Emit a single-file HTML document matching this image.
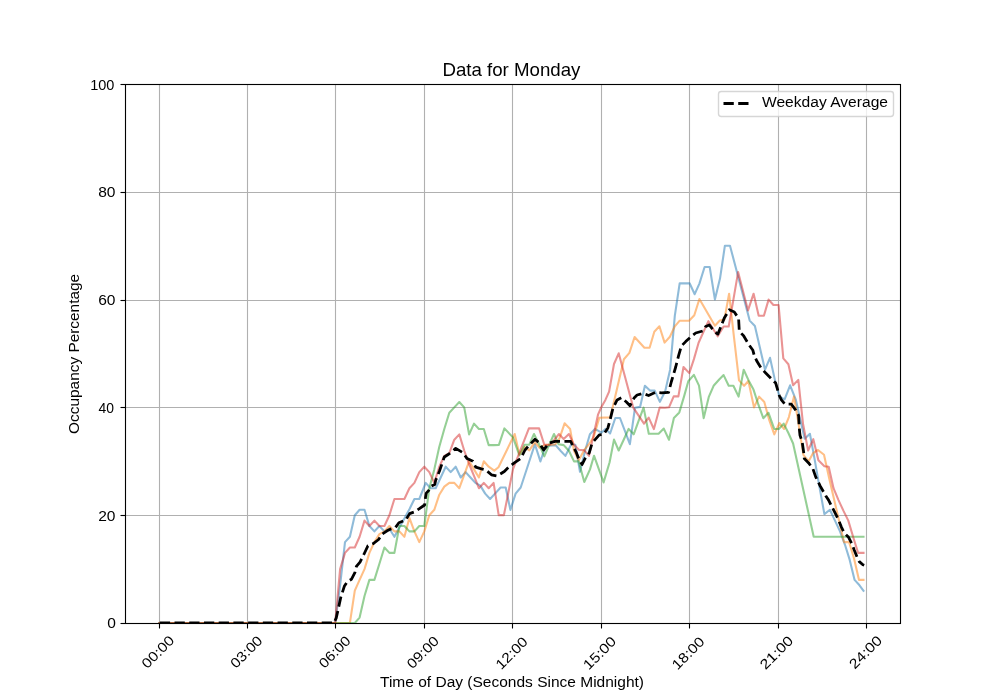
<!DOCTYPE html>
<html><head><meta charset="utf-8"><title>Data for Monday</title>
<style>
html,body{margin:0;padding:0;background:#fff;width:1000px;height:700px;overflow:hidden}
svg{display:block;will-change:transform}
text{font-family:"Liberation Sans", sans-serif;fill:#000}
</style></head><body>
<svg width="1000" height="700" viewBox="0 0 1000 700">
<defs><clipPath id="clip"><rect x="125" y="84" width="775" height="539"/></clipPath></defs>
<rect x="0" y="0" width="1000" height="700" fill="#fff"/>
<line x1="159.5" y1="84" x2="159.5" y2="623" stroke="#b0b0b0" stroke-width="1.11"/>
<line x1="247.5" y1="84" x2="247.5" y2="623" stroke="#b0b0b0" stroke-width="1.11"/>
<line x1="335.5" y1="84" x2="335.5" y2="623" stroke="#b0b0b0" stroke-width="1.11"/>
<line x1="424.5" y1="84" x2="424.5" y2="623" stroke="#b0b0b0" stroke-width="1.11"/>
<line x1="512.5" y1="84" x2="512.5" y2="623" stroke="#b0b0b0" stroke-width="1.11"/>
<line x1="601.5" y1="84" x2="601.5" y2="623" stroke="#b0b0b0" stroke-width="1.11"/>
<line x1="689.5" y1="84" x2="689.5" y2="623" stroke="#b0b0b0" stroke-width="1.11"/>
<line x1="778.5" y1="84" x2="778.5" y2="623" stroke="#b0b0b0" stroke-width="1.11"/>
<line x1="866.5" y1="84" x2="866.5" y2="623" stroke="#b0b0b0" stroke-width="1.11"/>
<line x1="125" y1="192.5" x2="900" y2="192.5" stroke="#b0b0b0" stroke-width="1.11"/>
<line x1="125" y1="300.5" x2="900" y2="300.5" stroke="#b0b0b0" stroke-width="1.11"/>
<line x1="125" y1="407.5" x2="900" y2="407.5" stroke="#b0b0b0" stroke-width="1.11"/>
<line x1="125" y1="515.5" x2="900" y2="515.5" stroke="#b0b0b0" stroke-width="1.11"/>
<g clip-path="url(#clip)">
<path d="M159.5 623.0L335.2 623.0L340.1 585.3L345.0 542.1L349.9 536.8L354.8 515.2L359.6 509.8L364.5 509.8L369.4 526.0L374.4 531.4L379.4 526.0L384.4 531.4L389.4 528.7L394.4 536.8L399.4 527.6L404.4 518.4L409.4 509.3L414.4 499.0L419.3 499.0L425.7 482.9L430.7 488.2L435.7 488.2L440.7 477.5L445.7 466.7L450.7 472.1L455.7 466.7L460.7 477.5L465.6 472.1L470.5 477.5L475.4 482.9L480.3 485.6L485.2 493.6L490.1 499.0L495.0 493.6L500.6 487.5L505.7 487.5L510.4 509.9L515.6 493.6L520.7 487.5L534.9 444.3L540.4 461.4L545.6 446.0L555.6 445.1L560.5 450.7L565.4 455.9L571.0 444.7L575.3 444.7L580.0 471.7L585.1 450.7L589.9 434.3L595.0 428.9L601.4 432.7L605.7 428.9L610.1 433.5L615.3 418.0L620.0 418.0L629.9 444.2L635.0 407.7L640.1 406.9L644.9 385.8L650.0 390.6L654.7 390.6L659.9 401.9L665.2 391.2L670.1 369.7L674.8 315.8L679.7 283.2L684.7 283.4L689.6 283.2L694.7 294.2L699.4 283.6L704.6 267.0L709.7 267.0L714.9 299.4L720.0 278.6L724.9 245.7L730.0 245.7L749.7 320.6L754.9 326.0L765.0 369.7L770.0 357.8L775.0 380.4L779.5 396.6L784.6 399.3L790.1 385.3L795.7 399.3L800.2 419.3L804.7 438.7L809.9 433.8L814.5 458.6L819.4 486.6L824.4 514.1L829.9 509.8L835.0 520.6L840.0 531.4L845.0 544.8L849.7 559.9L854.6 579.9L859.5 585.3L863.5 590.7" fill="none" stroke="#1f77b4" stroke-opacity="0.5" stroke-width="2.08" stroke-linejoin="round" stroke-linecap="square"/>
<path d="M159.5 623.0L349.9 623.0L354.8 590.7L359.6 579.9L364.5 569.1L369.4 552.9L374.4 542.1L379.4 534.1L384.4 531.4L389.4 526.0L394.4 531.4L399.4 531.4L404.4 536.8L409.4 517.9L414.4 531.4L419.3 542.1L424.3 531.4L429.3 515.2L434.3 509.8L439.3 494.7L444.3 486.6L449.3 482.9L454.3 482.9L459.3 488.2L464.2 474.8L469.1 461.3L474.0 469.4L478.9 477.5L483.8 461.3L488.7 466.7L494.3 470.6L498.5 467.2L514.7 434.0L519.4 454.6L524.6 446.9L529.3 450.3L534.9 442.2L539.6 447.7L544.7 445.1L549.9 444.7L555.1 444.5L559.4 438.7L564.6 423.3L570.1 428.9L574.0 450.7L578.7 460.2L584.3 449.9L588.6 444.7L593.7 437.0L599.3 417.7L610.3 417.4L623.9 359.3L629.4 352.9L634.6 337.0L644.4 347.7L649.6 347.7L654.3 331.8L659.4 326.3L664.6 342.6L669.9 336.7L674.6 326.7L679.7 320.7L689.1 320.7L694.3 315.2L699.4 299.0L714.9 325.7L719.8 320.5L724.4 319.5L729.1 293.7L734.0 337.3L739.0 380.4L744.1 385.8L748.4 381.0L754.0 407.4L759.1 396.6L764.3 402.0L769.0 419.3L774.3 434.4L779.4 423.0L784.1 429.0L788.9 417.1L794.0 396.6L798.5 423.6L803.4 454.8L808.6 461.3L813.0 453.2L818.0 450.0L824.0 454.8L829.0 477.5L834.0 499.0L839.0 520.6L844.0 542.1L849.1 542.1L854.0 558.3L859.0 579.9L863.5 579.9" fill="none" stroke="#ff7f0e" stroke-opacity="0.5" stroke-width="2.08" stroke-linejoin="round" stroke-linecap="square"/>
<path d="M159.5 623.0L354.8 623.0L359.6 617.6L364.5 596.0L369.4 579.9L374.4 579.9L379.4 563.7L384.4 547.5L389.4 552.9L394.4 552.9L399.4 526.0L404.4 526.0L409.4 531.4L414.4 531.4L419.3 526.0L424.3 526.0L429.3 488.2L434.3 469.4L439.3 446.7L444.3 429.0L449.3 412.8L454.3 407.4L459.3 402.0L464.2 407.4L469.1 434.4L474.0 423.6L478.9 429.0L483.8 429.0L488.7 445.1L493.6 445.1L498.9 444.9L504.4 428.4L513.0 437.4L519.4 455.4L524.6 444.7L529.3 444.7L534.0 434.0L539.1 444.3L544.3 456.3L549.4 444.3L554.0 434.0L558.6 444.3L563.7 445.1L568.9 450.7L574.0 461.4L578.7 461.4L584.3 482.0L590.0 469.4L594.0 455.7L603.6 482.4L609.6 462.2L614.0 439.6L618.7 450.5L623.7 439.7L628.6 428.9L633.7 434.3L638.6 420.9L643.6 407.6L648.8 433.8L653.7 433.8L658.6 433.8L663.8 428.6L669.0 439.7L673.9 417.9L679.3 412.4L684.0 396.6L688.3 381.3L693.9 374.9L699.0 385.6L703.7 418.1L708.9 396.6L713.6 385.8L719.2 379.5L723.6 375.1L728.7 385.8L733.4 385.8L738.6 396.6L743.7 369.7L748.6 380.4L753.5 389.6L758.4 404.7L763.3 418.2L768.5 412.8L774.3 429.0L778.8 429.0L783.7 423.6L788.5 433.3L793.1 443.5L813.7 536.8L863.5 536.8" fill="none" stroke="#2ca02c" stroke-opacity="0.5" stroke-width="2.08" stroke-linejoin="round" stroke-linecap="square"/>
<path d="M159.5 623.0L335.2 623.0L340.1 569.1L345.0 552.9L349.9 547.5L354.8 547.5L359.6 536.8L364.5 520.6L369.4 526.0L374.4 520.6L379.4 526.0L384.4 526.0L389.4 515.2L394.4 499.0L399.4 499.0L404.4 499.0L409.4 488.2L414.4 482.9L419.3 472.1L424.3 466.7L429.3 472.1L434.3 482.9L439.3 466.7L444.3 455.9L449.3 453.2L454.3 439.7L459.3 434.4L464.2 450.5L469.1 464.0L474.0 475.9L478.9 488.2L483.8 482.9L488.7 488.2L493.6 482.9L498.7 515.1L503.9 515.1L513.0 469.1L528.9 428.4L539.1 428.4L544.3 444.7L549.9 444.7L554.4 439.6L559.0 434.0L563.7 439.1L568.9 434.0L574.0 444.7L579.1 449.9L584.3 450.3L589.0 455.9L598.0 414.7L601.4 407.0L605.4 399.9L609.1 391.6L614.0 364.0L618.7 353.3L633.3 407.7L644.0 423.6L648.7 417.6L653.9 429.1L659.7 407.5L665.0 407.7L669.0 407.3L673.7 396.4L678.4 396.4L683.5 367.0L689.3 373.1L694.0 358.9L698.6 342.7L703.5 331.9L708.4 321.2L713.0 328.7L717.7 336.3L723.6 326.5L728.7 326.5L733.4 299.6L738.1 272.1L748.0 310.4L753.6 293.7L758.7 315.8L763.9 315.8L768.6 299.6L773.4 305.0L778.6 305.0L783.3 358.4L788.4 364.3L793.1 385.3L798.3 379.9L803.0 423.6L808.1 450.5L813.3 439.2L818.4 460.2L824.4 466.2L828.7 466.7L833.5 488.2L838.5 500.1L843.5 510.9L848.3 520.6L853.4 537.8L858.1 552.9L863.5 552.9" fill="none" stroke="#d62728" stroke-opacity="0.5" stroke-width="2.08" stroke-linejoin="round" stroke-linecap="square"/>
<path d="M159.8 623.0L334.0 623.0L336.2 618.1L337.9 610.6L340.7 597.7L344.3 586.3L347.1 582.0L351.4 579.3L355.0 572.3L356.4 566.4L360.0 562.1L364.3 553.5L367.9 545.9L372.9 543.8L378.6 539.5L382.1 534.1L387.1 530.8L390.3 529.2L395.4 527.6L398.9 522.7L405.7 520.1L409.6 513.6L414.3 512.0L419.4 508.7L424.6 505.0L425.5 497.4L426.3 493.1L428.8 490.4L431.4 486.1L434.8 484.5L435.7 480.2L439.5 471.0L444.3 457.0L448.6 454.3L455.7 448.4L462.9 452.7L467.1 458.6L472.9 461.3L475.7 467.2L481.4 468.8L485.7 469.9L491.4 474.8L497.1 475.9L504.3 471.5L508.6 467.2L514.3 462.9L520.7 458.6L525.0 450.0L529.3 445.1L535.0 439.2L539.3 443.0L543.6 450.0L549.3 443.0L555.0 441.4L563.6 441.4L570.7 441.4L573.6 447.3L576.4 452.7L579.3 460.2L582.1 464.5L585.0 458.6L589.3 452.7L592.1 443.0L599.3 434.9L603.6 434.4L607.9 427.9L610.0 420.3L612.9 408.5L617.1 399.9L621.4 397.7L626.4 402.0L630.0 405.8L634.3 397.7L637.1 395.0L642.9 393.4L648.6 395.5L655.7 392.3L661.4 392.8L668.6 392.3L671.4 381.5L675.7 367.0L678.6 355.7L681.4 346.0L685.7 341.6L691.4 336.3L695.7 333.0L702.9 330.9L705.7 326.5L709.3 324.9L714.3 331.4L717.9 334.1L720.7 327.1L724.3 317.9L729.3 309.8L734.3 312.0L738.6 318.5L739.3 331.4L743.6 335.7L748.6 344.3L752.9 350.3L754.3 355.7L757.1 361.6L761.4 368.6L765.7 372.9L771.4 378.8L775.7 383.1L779.3 395.5L781.4 399.9L785.0 404.2L791.4 404.2L795.7 410.1L798.6 415.5L799.3 428.4L800.0 435.4L802.1 441.4L803.6 451.6L804.3 458.6L808.6 462.9L812.9 468.8L815.7 476.9L820.0 485.6L825.7 495.8L828.6 500.1L832.9 508.7L835.7 514.1L838.6 520.1L841.4 527.1L844.3 533.0L848.6 537.3L852.1 544.3L854.3 550.2L857.1 557.2L859.3 561.6L862.9 564.8L864.2 565.3" fill="none" stroke="#000" stroke-width="2.78" stroke-dasharray="10.28 4.44" stroke-linejoin="round" stroke-linecap="butt"/>
</g>
<rect x="125.5" y="84.5" width="775" height="539" fill="none" stroke="#000" stroke-width="1.11"/>
<line x1="159.5" y1="623.5" x2="159.5" y2="628.5" stroke="#000" stroke-width="1.11"/>
<line x1="247.5" y1="623.5" x2="247.5" y2="628.5" stroke="#000" stroke-width="1.11"/>
<line x1="335.5" y1="623.5" x2="335.5" y2="628.5" stroke="#000" stroke-width="1.11"/>
<line x1="424.5" y1="623.5" x2="424.5" y2="628.5" stroke="#000" stroke-width="1.11"/>
<line x1="512.5" y1="623.5" x2="512.5" y2="628.5" stroke="#000" stroke-width="1.11"/>
<line x1="601.5" y1="623.5" x2="601.5" y2="628.5" stroke="#000" stroke-width="1.11"/>
<line x1="689.5" y1="623.5" x2="689.5" y2="628.5" stroke="#000" stroke-width="1.11"/>
<line x1="778.5" y1="623.5" x2="778.5" y2="628.5" stroke="#000" stroke-width="1.11"/>
<line x1="866.5" y1="623.5" x2="866.5" y2="628.5" stroke="#000" stroke-width="1.11"/>
<line x1="125.5" y1="192.5" x2="120.5" y2="192.5" stroke="#000" stroke-width="1.11"/>
<line x1="125.5" y1="300.5" x2="120.5" y2="300.5" stroke="#000" stroke-width="1.11"/>
<line x1="125.5" y1="407.5" x2="120.5" y2="407.5" stroke="#000" stroke-width="1.11"/>
<line x1="125.5" y1="515.5" x2="120.5" y2="515.5" stroke="#000" stroke-width="1.11"/>
<line x1="125.5" y1="84.5" x2="120.5" y2="84.5" stroke="#000" stroke-width="1.11"/>
<line x1="125.5" y1="623.5" x2="120.5" y2="623.5" stroke="#000" stroke-width="1.11"/>
<rect x="718.5" y="91.5" width="175" height="25" rx="2.8" ry="2.8" fill="#fff" fill-opacity="0.8" stroke="#ccc" stroke-opacity="0.8" stroke-width="1.39"/>
<line x1="723.5" y1="103.5" x2="748.5" y2="103.5" stroke="#000" stroke-width="2.78" stroke-dasharray="10.28 4.44"/>
<text x="442.40" y="75.80" font-size="18.60" textLength="138.07" lengthAdjust="spacingAndGlyphs">Data for Monday</text>
<text x="107.20" y="627.80" font-size="13.89" textLength="8.64" lengthAdjust="spacingAndGlyphs">0</text>
<text x="98.20" y="520.80" font-size="13.89" textLength="17.31" lengthAdjust="spacingAndGlyphs">20</text>
<text x="98.60" y="412.80" font-size="13.89" textLength="15.47" lengthAdjust="spacingAndGlyphs">40</text>
<text x="98.20" y="304.80" font-size="13.89" textLength="17.31" lengthAdjust="spacingAndGlyphs">60</text>
<text x="98.20" y="196.80" font-size="13.89" textLength="17.31" lengthAdjust="spacingAndGlyphs">80</text>
<text x="90.20" y="89.80" font-size="13.89" textLength="24.20" lengthAdjust="spacingAndGlyphs">100</text>
<text x="380.00" y="687.40" font-size="13.89" textLength="264.02" lengthAdjust="spacingAndGlyphs">Time of Day (Seconds Since Midnight)</text>
<text transform="translate(74.20 353.90) rotate(-90)" x="0" y="4.86" text-anchor="middle" font-size="13.89" textLength="160.06" lengthAdjust="spacingAndGlyphs">Occupancy Percentage</text>
<text x="762.00" y="107.40" font-size="13.89" textLength="126.02" lengthAdjust="spacingAndGlyphs">Weekday Average</text>
<text transform="translate(157.75 651.90) rotate(-45)" x="0" y="4.86" text-anchor="middle" font-size="13.89" textLength="39.43" lengthAdjust="spacingAndGlyphs">00:00</text>
<text transform="translate(246.19 651.90) rotate(-45)" x="0" y="4.86" text-anchor="middle" font-size="13.89" textLength="38.87" lengthAdjust="spacingAndGlyphs">03:00</text>
<text transform="translate(334.63 651.90) rotate(-45)" x="0" y="4.86" text-anchor="middle" font-size="13.89" textLength="38.30" lengthAdjust="spacingAndGlyphs">06:00</text>
<text transform="translate(422.67 652.30) rotate(-45)" x="0" y="4.86" text-anchor="middle" font-size="13.89" textLength="38.87" lengthAdjust="spacingAndGlyphs">09:00</text>
<text transform="translate(511.51 653.00) rotate(-45)" x="0" y="4.86" text-anchor="middle" font-size="13.89" textLength="38.87" lengthAdjust="spacingAndGlyphs">12:00</text>
<text transform="translate(599.54 653.00) rotate(-45)" x="0" y="4.86" text-anchor="middle" font-size="13.89" textLength="40.00" lengthAdjust="spacingAndGlyphs">15:00</text>
<text transform="translate(687.98 653.00) rotate(-45)" x="0" y="4.86" text-anchor="middle" font-size="13.89" textLength="39.43" lengthAdjust="spacingAndGlyphs">18:00</text>
<text transform="translate(776.32 652.50) rotate(-45)" x="0" y="4.86" text-anchor="middle" font-size="13.89" textLength="40.57" lengthAdjust="spacingAndGlyphs">21:00</text>
<text transform="translate(865.36 652.10) rotate(-45)" x="0" y="4.86" text-anchor="middle" font-size="13.89" textLength="40.00" lengthAdjust="spacingAndGlyphs">24:00</text>
</svg>
</body></html>
